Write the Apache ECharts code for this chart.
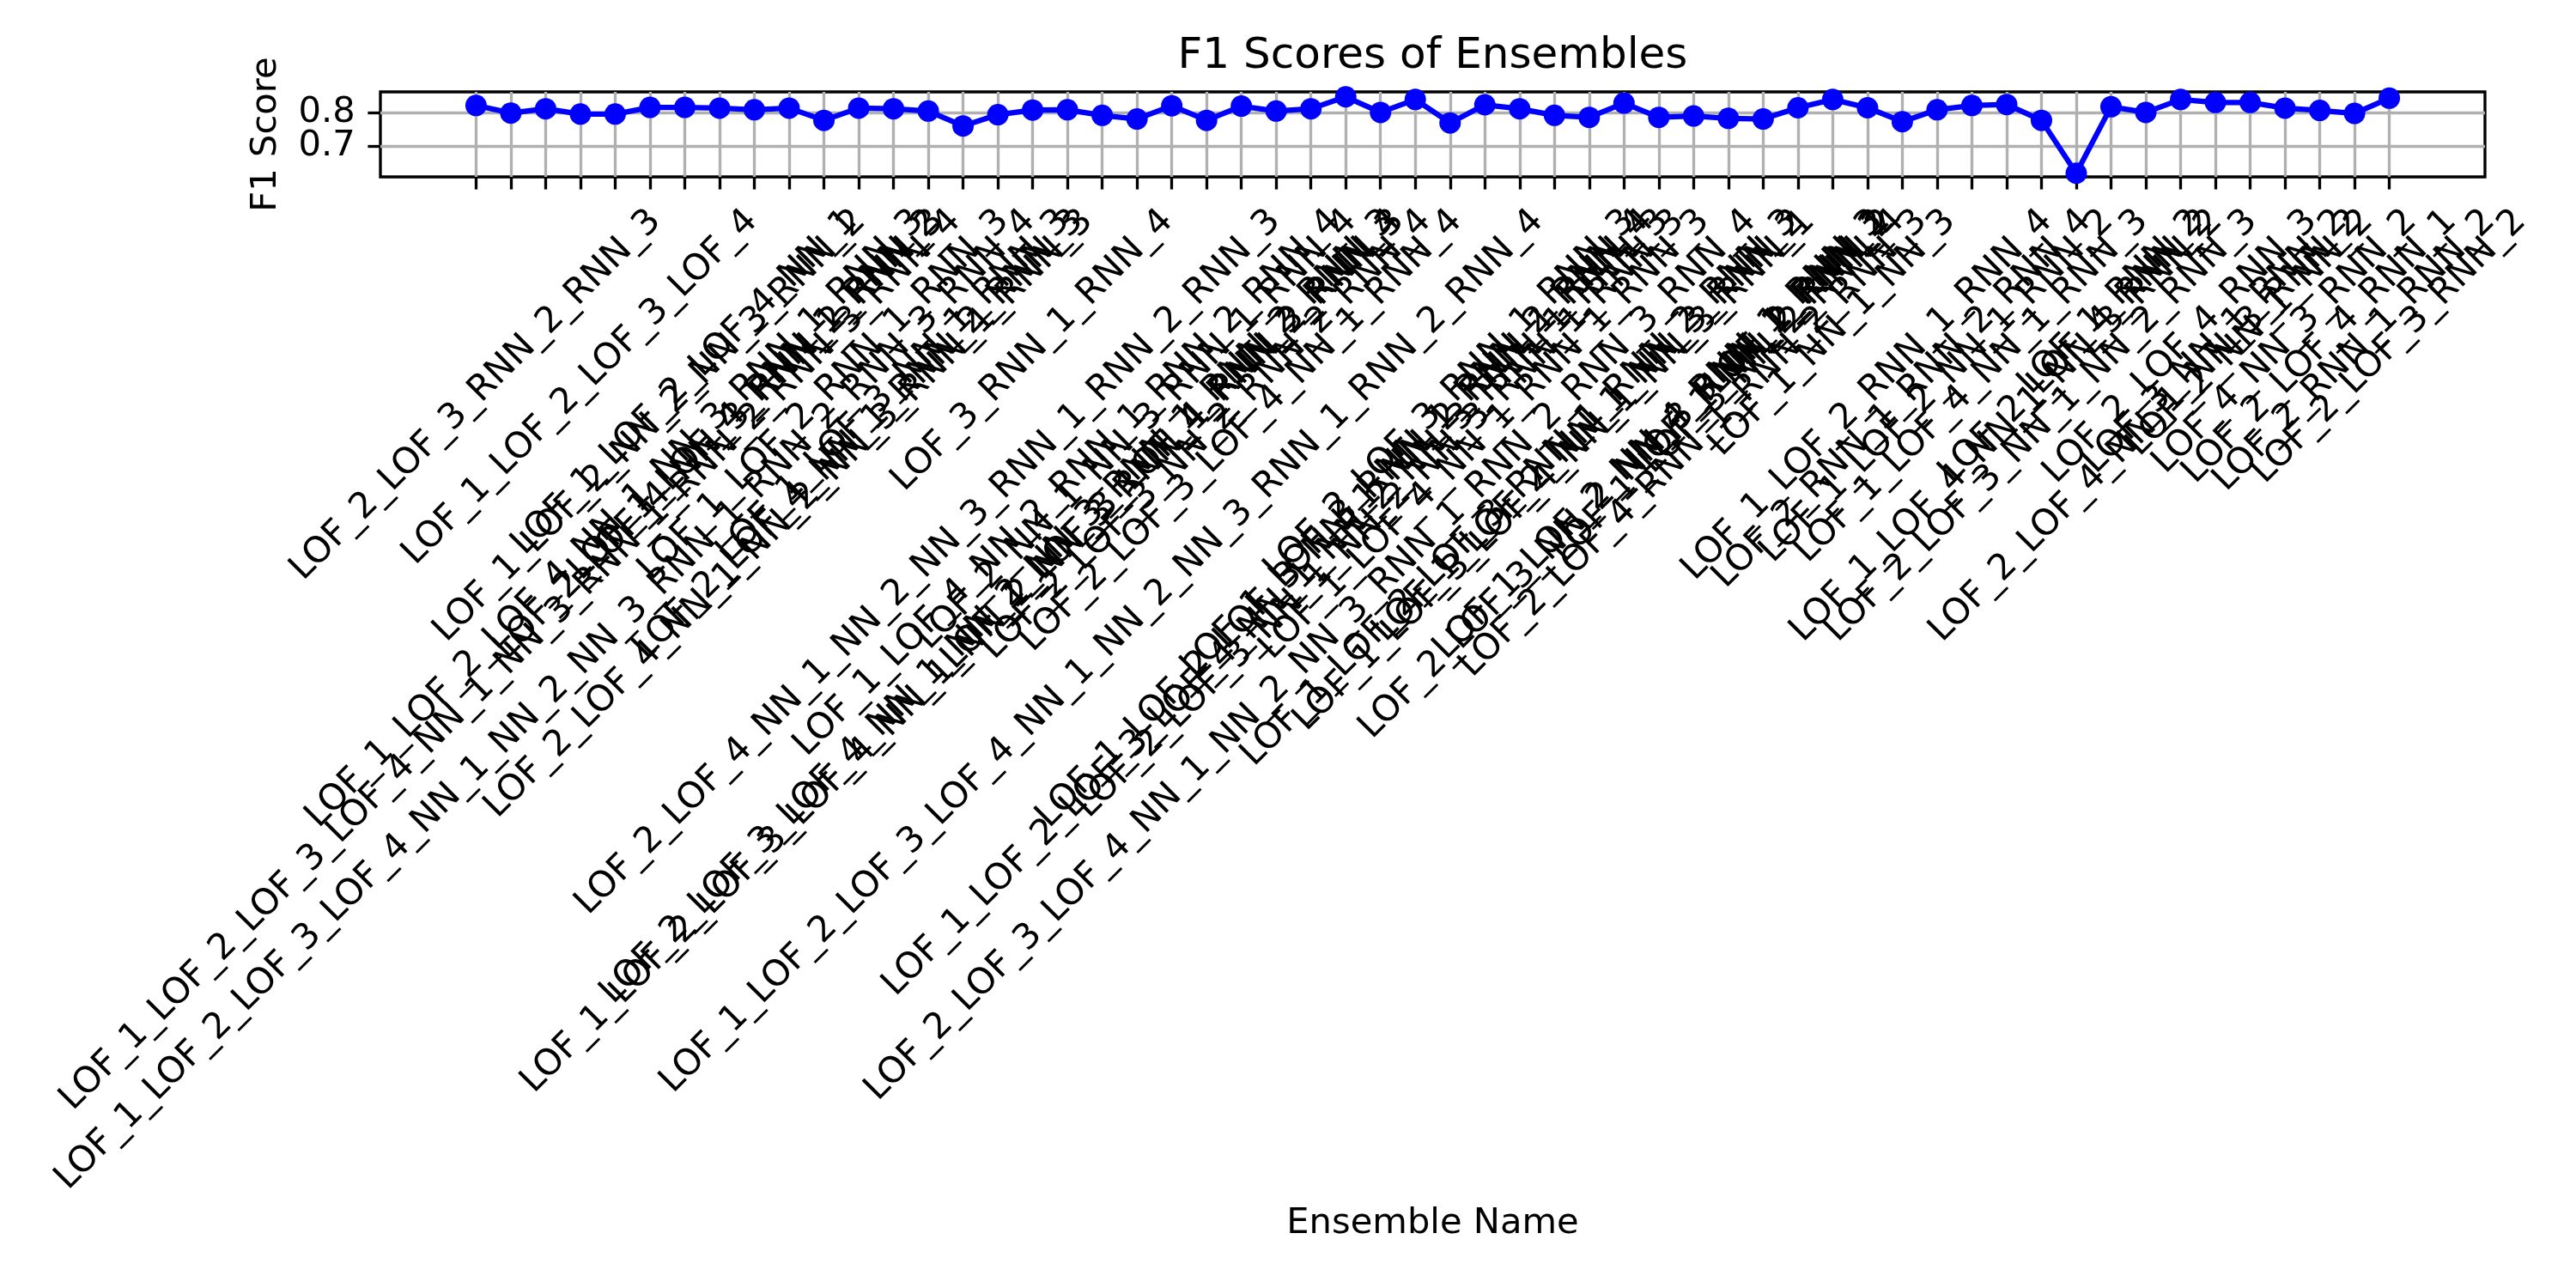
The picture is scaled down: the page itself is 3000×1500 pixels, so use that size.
<!DOCTYPE html>
<html><head><meta charset="utf-8">
<script src="https://cdn.jsdelivr.net/npm/echarts@6/dist/echarts.min.js"></script>
<style>html,body{margin:0;padding:0;background:#fff}#c{width:3000px;height:1500px}</style>
</head><body><div id="c"></div>
<script>
const categories = [
  'LOF_2_LOF_3_RNN_2_RNN_3',
  'LOF_1_LOF_2_LOF_3_LOF_4_NN_1_NN_3_RNN_1_RNN_2_RNN_3_RNN_4',
  'LOF_1_LOF_2_LOF_3_LOF_4_NN_1_NN_2_NN_3_RNN_1_RNN_2_RNN_3_RNN_4',
  'LOF_1_LOF_2_LOF_3_LOF_4',
  'LOF_1_LOF_2_LOF_4_NN_1_NN_3_RNN_1_RNN_3',
  'LOF_1_LOF_2_NN_2_NN_3_RNN_2',
  'LOF_1_LOF_2_LOF_4_NN_1',
  'LOF_2_LOF_4_NN_3_RNN_2_RNN_3',
  'LOF_1_LOF_4_RNN_1_RNN_2',
  'LOF_2_LOF_4_NN_1_NN_2_NN_3_RNN_1_RNN_3',
  'LOF_1_LOF_2_RNN_1_RNN_3',
  'LOF_2_LOF_4_NN_1_RNN_2_RNN_3',
  'LOF_1_LOF_3_NN_1_RNN_3',
  'LOF_2_LOF_4_NN_1_NN_2_NN_3_RNN_1_RNN_2_RNN_3',
  'LOF_1_LOF_2_LOF_3_LOF_4_NN_1_NN_2_NN_3_RNN_1_RNN_2_RNN_3',
  'LOF_2_LOF_3_LOF_4_NN_1_NN_2_NN_3_RNN_1_RNN_2_RNN_3',
  'LOF_3_RNN_1_RNN_4',
  'LOF_1_LOF_4_NN_2_RNN_1_RNN_2_RNN_4',
  'LOF_1_LOF_2_LOF_3_LOF_4_NN_1_NN_2_NN_3_RNN_1_RNN_2_RNN_4',
  'LOF_2_NN_1_NN_3_RNN_1_RNN_4',
  'LOF_1_LOF_3_LOF_4_RNN_3_RNN_4',
  'LOF_2_LOF_3_NN_2_RNN_2_RNN_4',
  'LOF_2_LOF_3_LOF_4_NN_1_RNN_4',
  'LOF_1_LOF_2_LOF_3_LOF_4_NN_1_NN_2_NN_3_RNN_1_RNN_3',
  'LOF_2_LOF_3_LOF_4_NN_1_NN_2_NN_3_RNN_1_RNN_2_RNN_3_RNN_4',
  'LOF_1_LOF_2_LOF_3_NN_1_NN_2_RNN_1_RNN_4',
  'LOF_2_LOF_3_NN_1_NN_2_NN_3_RNN_1_RNN_3',
  'LOF_1_LOF_3_RNN_1_RNN_2_RNN_4',
  'LOF_2_LOF_3_RNN_1_RNN_3',
  'LOF_1_LOF_4_NN_1_RNN_1_RNN_3',
  'LOF_1_LOF_2_LOF_3_RNN_1_RNN_2_RNN_3',
  'LOF_1_LOF_3_LOF_4_NN_1_NN_3_RNN_1',
  'LOF_1_LOF_2_NN_1_NN_3_RNN_2',
  'LOF_2_LOF_3_NN_2_NN_3_RNN_1_RNN_2',
  'LOF_1_LOF_2_NN_4_RNN_1_RNN_3',
  'LOF_2_LOF_4_RNN_1_RNN_2_RNN_3',
  'LOF_1_LOF_3_NN_2_RNN_4',
  'LOF_1_NN_2_RNN_2',
  'LOF_2_RNN_1',
  'LOF_1_NN_1_NN_3',
  'LOF_1_LOF_2_RNN_1_RNN_4',
  'LOF_2_RNN_1_RNN_2_RNN_4',
  'LOF_1_LOF_2_NN_1_RNN_2',
  'LOF_1_LOF_4_NN_1_RNN_3',
  'LOF_1_LOF_4_NN_1_NN_3_RNN_2',
  'LOF_2_LOF_3_NN_1_NN_2_RNN_3',
  'LOF_2_LOF_4_RNN_2',
  'LOF_1_RNN_2',
  'LOF_2_LOF_4_NN_1_NN_3_RNN_2',
  'LOF_2_LOF_4_RNN_3',
  'LOF_3_NN_1_RNN_2',
  'LOF_2_NN_1_NN_2',
  'LOF_4_NN_3_RNN_2',
  'LOF_2_LOF_4_RNN_1',
  'LOF_2_RNN_1_RNN_2',
  'LOF_2_LOF_3_RNN_2'
];
const f1Scores = [
  0.823, 0.800, 0.813, 0.797, 0.797, 0.817, 0.817, 0.815, 0.810, 0.815,
  0.778, 0.815, 0.813, 0.806, 0.761, 0.795, 0.809, 0.810, 0.793, 0.782,
  0.822, 0.778, 0.821, 0.806, 0.813, 0.849, 0.802, 0.841, 0.770, 0.825,
  0.813, 0.793, 0.787, 0.830, 0.787, 0.791, 0.784, 0.782, 0.816, 0.841,
  0.816, 0.774, 0.810, 0.823, 0.826, 0.778, 0.618, 0.819, 0.802, 0.841,
  0.832, 0.832, 0.815, 0.808, 0.799, 0.845
];
const yTickValues = [0.7, 0.8];
const yTickLabels = ['0.7', '0.8'];
const yMin = 0.607, yMax = 0.864;
const chartTitle = 'F1 Scores of Ensembles';
const xAxisTitle = 'Ensemble Name';
const yAxisTitle = 'F1 Score';

const FONT = 'DejaVu Sans';
const FS = 41.67;
const FONT_STR = FS + 'px "' + FONT + '"';
const plot = {left: 443, right: 2894, top: 107, bottom: 206};
const n = categories.length;
const span = plot.right - plot.left;
const step = span / ((n - 1) * 1.1);
const firstX = plot.left + step * (n - 1) * 0.05;
const lastX = firstX + step * (n - 1);
const LABEL_TOP = 235;     // top of rotated tick-label boxes
const LABEL_BOX_H = 46;    // unrotated text box height
const TICK_LEN = 14.58, TICK_PAD = 14.58;

const ctx = document.createElement('canvas').getContext('2d');
ctx.font = FONT_STR;

const chart = echarts.init(document.getElementById('c'), null, {renderer: 'canvas'});
const baseGraphics = [
  {type: 'text', x: (plot.left + plot.right) / 2, y: 66, z: 10,
   style: {text: chartTitle, font: '50px "' + FONT + '"', fill: '#000', textAlign: 'center', textVerticalAlign: 'middle'}},
  {type: 'text', x: 310, y: (plot.top + plot.bottom) / 2, rotation: Math.PI / 2, z: 10,
   style: {text: yAxisTitle, font: FONT_STR, fill: '#000', textAlign: 'center', textVerticalAlign: 'middle'}},
  {type: 'text', x: (plot.left + plot.right) / 2, y: 1425, z: 10,
   style: {text: xAxisTitle, font: FONT_STR, fill: '#000', textAlign: 'center', textVerticalAlign: 'middle'}}
];
const option = {
  animation: false,
  backgroundColor: '#ffffff',
  textStyle: {fontFamily: FONT},
  grid: [
    {left: plot.left, top: plot.top, width: span, height: plot.bottom - plot.top,
     show: true, borderColor: '#000', borderWidth: 3.33, backgroundColor: 'rgba(0,0,0,0)',
     containLabel: false, outerBoundsMode: 'none'},
    {left: firstX, top: plot.top, width: lastX - firstX, height: plot.bottom - plot.top,
     containLabel: false, outerBoundsMode: 'none'}
  ],
  xAxis: [
    {gridIndex: 0, type: 'value', show: false, min: 0, max: 1},
    {gridIndex: 1, type: 'category', data: categories, boundaryGap: false,
     axisLine: {show: false},
     axisTick: {show: true, interval: 0, length: TICK_LEN, lineStyle: {color: '#000', width: 3.33}},
     splitLine: {show: true, interval: 0, lineStyle: {color: '#b0b0b0', width: 3.33}},
     axisLabel: {show: false, interval: 0}}
  ],
  yAxis: [
    {gridIndex: 0, type: 'value', min: yMin, max: yMax,
     axisLine: {show: false},
     axisTick: {show: true, customValues: yTickValues, length: TICK_LEN, lineStyle: {color: '#000', width: 3.33}},
     axisLabel: {show: false, customValues: yTickValues},
     splitLine: {show: true, lineStyle: {color: '#b0b0b0', width: 3.33}}},
    {gridIndex: 1, type: 'value', min: yMin, max: yMax, show: false, splitLine: {show: false}}
  ],
  series: [{
    type: 'line', xAxisIndex: 1, yAxisIndex: 1, data: f1Scores,
    symbol: 'circle', symbolSize: 25, showSymbol: true, showAllSymbol: true, clip: false,
    lineStyle: {color: '#0000ff', width: 6.25}, itemStyle: {color: '#0000ff'}, z: 5
  }],
  graphic: baseGraphics
};
chart.setOption(option);

// y tick labels, placed through the y axis scale
const yLabelGraphics = yTickValues.map(function (v, k) {
  return {type: 'text', x: plot.left - TICK_LEN - TICK_PAD, y: chart.convertToPixel({yAxisIndex: 0}, v), z: 10,
          style: {text: yTickLabels[k], font: FONT_STR, fill: '#000', textAlign: 'right', textVerticalAlign: 'middle'}};
});
// x tick labels: matplotlib-style rotation=45, ha='center' — each label's box is centred on its tick
const xLabelGraphics = categories.map(function (name, i) {
  const px = chart.convertToPixel({xAxisIndex: 1}, i);
  const w = ctx.measureText(name).width;
  const cy = LABEL_TOP + (w + LABEL_BOX_H) * Math.SQRT1_2 / 2;
  return {type: 'text', x: px, y: cy, rotation: Math.PI / 4, z: 10,
          style: {text: name, font: FONT_STR, fill: '#000', textAlign: 'center', textVerticalAlign: 'middle'}};
});
chart.setOption({graphic: baseGraphics.concat(yLabelGraphics, xLabelGraphics)}, {replaceMerge: ['graphic']});
</script>
</body></html>
